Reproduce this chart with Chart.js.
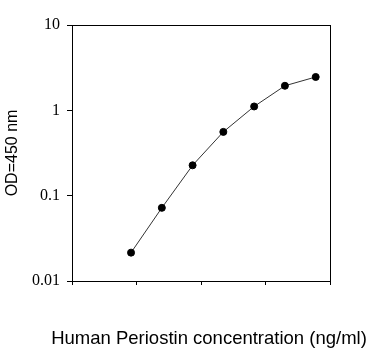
<!DOCTYPE html>
<html>
<head>
<meta charset="utf-8">
<script src="https://cdn.jsdelivr.net/npm/chart.js@4/dist/chart.umd.min.js"></script>
<style>
  body { margin: 0; background: #fff; }
</style>
</head>
<body>
<canvas id="myChart" width="386" height="358"></canvas>
<script>
// standard curve, 3-fold dilutions
const concentrations = [0.0823, 0.247, 0.741, 2.22, 6.67, 20, 60];
const odValues = [0.0215, 0.072, 0.227, 0.559, 1.11, 1.94, 2.46];
const xTicks = [0.01, 0.1, 1, 10, 100];
const yTicks = [0.01, 0.1, 1, 10];
const xTitle = 'Human Periostin concentration (ng/ml)';

// frame round the plot + x title (axis title would get squeezed to the axis width)
const boxPlugin = {
  id: 'box',
  afterDraw(chart) {
    const a = chart.chartArea;
    const c = chart.ctx;
    c.save();
    c.strokeStyle = '#000';
    c.lineWidth = 1;
    c.strokeRect(Math.round(a.left) + 0.5, Math.round(a.top) + 0.5, Math.round(a.right - a.left), Math.round(a.bottom - a.top));
    c.fillStyle = '#000';
    c.font = '18.5px "Liberation Sans"';
    c.textAlign = 'center';
    c.textBaseline = 'middle';
    c.fillText(xTitle, (a.left + a.right) / 2 + 8, a.bottom + 58);
    c.restore();
  }
};

const ctx = document.getElementById('myChart');
new Chart(ctx, {
  type: 'line',
  data: {
    datasets: [{
      data: concentrations.map((c, i) => ({ x: c, y: odValues[i] })),
      borderColor: '#333',
      borderWidth: 1,
      pointBackgroundColor: '#000',
      pointBorderColor: '#000',
      pointRadius: 3.5,
      tension: 0
    }]
  },
  options: {
    responsive: false,
    maintainAspectRatio: false,
    animation: false,
    layout: { padding: { top: 25, right: 56, left: 0, bottom: 0 } },
    plugins: { legend: { display: false }, tooltip: { enabled: false } },
    scales: {
      x: {
        type: 'logarithmic',
        min: 0.01,
        max: 100,
        afterBuildTicks: s => { s.ticks = xTicks.map(v => ({ value: v })); },
        afterFit: s => { s.height = 77; },
        grid: { drawOnChartArea: false, color: '#000', tickLength: 4 },
        border: { color: '#000' },
        ticks: { callback: () => '' }
      },
      y: {
        type: 'logarithmic',
        min: 0.01,
        max: 10,
        afterBuildTicks: s => { s.ticks = yTicks.map(v => ({ value: v })); },
        afterFit: s => { s.width = 72; },
        grid: { drawOnChartArea: false, color: '#000', tickLength: 5 },
        border: { color: '#000' },
        ticks: {
          color: '#000',
          padding: 7,
          font: { family: 'Liberation Serif', size: 16 },
          callback: v => String(v)
        },
        title: {
          display: true,
          text: 'OD=450 nm',
          color: '#000',
          font: { family: 'Liberation Sans', size: 16 },
          padding: { top: 3, bottom: 0 }
        }
      }
    }
  },
  plugins: [boxPlugin]
});
</script>
</body>
</html>
